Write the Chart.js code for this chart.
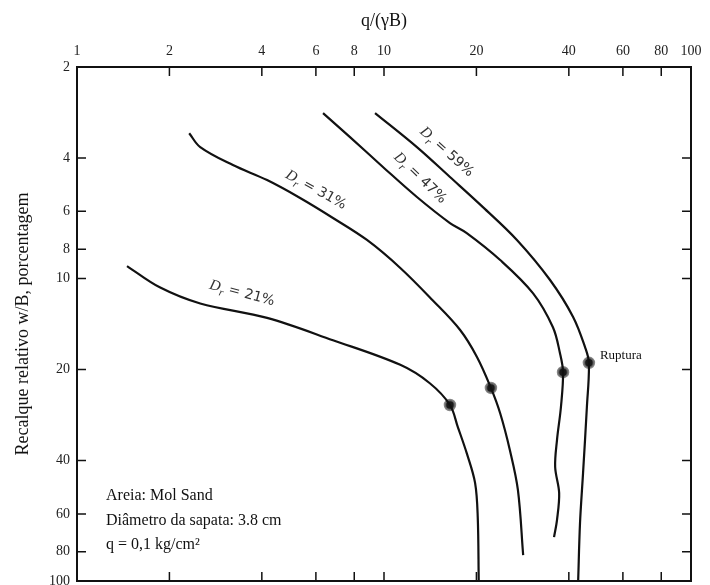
<!DOCTYPE html>
<html lang="pt">
<head>
<meta charset="UTF-8">
<title>Recalque relativo x q/(γB)</title>
<script src="https://cdn.jsdelivr.net/npm/chart.js"></script>
<style>
body { margin: 0; background: #fff; }
#wrap { width: 710px; height: 585px; }
</style>
</head>
<body>
<div id="wrap"><canvas id="chart" width="710" height="585"></canvas></div>
<script>
// tick labels
var xTickValues = [1, 2, 4, 6, 8, 10, 20, 40, 60, 80, 100];
var yTickValues = [2, 4, 6, 8, 10, 20, 40, 60, 80, 100];

// curves: q/(γB) vs w/B (%)
var dr21X = [1.455, 1.86, 2.52, 4.16, 6.82, 11.3, 14.1, 16.4, 17.4, 18.6, 19.8, 20.2, 20.35];
var dr21Y = [9.1, 10.7, 12.1, 13.5, 16.0, 19.3, 22.2, 26.2, 31.0, 37.8, 47.4, 61.5, 100];

var dr31X = [2.32, 2.52, 3.22, 4.16, 5.33, 6.82, 8.8, 11.3, 14.4, 17.7, 20.1, 22.3, 23.9, 25.7, 27.3, 28.4];
var dr31Y = [3.31, 3.68, 4.22, 4.73, 5.42, 6.31, 7.46, 9.23, 11.8, 14.8, 18.2, 23.0, 27.9, 36.9, 50.0, 82.1];

var dr47X = [6.33, 7.75, 9.92, 12.8, 16.4, 18.6, 23.9, 30.6, 35.5, 37.4, 38.3, 37.7, 36.6, 36.1, 37.2, 36.6, 35.8];
var dr47Y = [2.84, 3.41, 4.28, 5.38, 6.56, 7.08, 8.69, 11.2, 14.5, 17.6, 20.4, 26.6, 34.2, 42.0, 51.2, 62.9, 71.6];

var dr59X = [9.35, 12.8, 16.4, 21.0, 27.1, 34.7, 41.3, 45.2, 46.5, 45.8, 44.5, 43.5, 42.9];
var dr59Y = [2.84, 3.68, 4.62, 5.81, 7.46, 10.1, 13.4, 16.9, 19.0, 26.6, 44.0, 64.3, 100];

// rupture points
var ruptureX = [16.4, 22.3, 38.3, 46.5];
var ruptureY = [26.2, 23.0, 20.4, 19.0];

var curveNames = ['21%', '31%', '47%', '59%'];

function pts(xs, ys) {
  return xs.map(function(v, i) { return { x: v, y: ys[i] }; });
}

function curve(label, xs, ys) {
  return {
    label: label,
    data: pts(xs, ys),
    borderColor: '#111',
    borderWidth: 2.2,
    pointRadius: 0,
    tension: 0.35,
    fill: false
  };
}

var serif = '"Liberation Serif", "DejaVu Serif", serif';

// inward ticks, frame, curve labels and the note
var decorPlugin = {
  id: 'decor',
  afterDraw: function(chart) {
    var ctx = chart.ctx;
    var a = chart.chartArea;
    var xs = chart.scales.x;
    var ys = chart.scales.y;
    var tl = 9;

    ctx.save();
    ctx.strokeStyle = '#111';
    ctx.lineWidth = 2;
    ctx.strokeRect(a.left, a.top, a.right - a.left, a.bottom - a.top);

    ctx.lineWidth = 1.5;
    ctx.beginPath();
    xTickValues.slice(1, -1).forEach(function(v) {
      var px = xs.getPixelForValue(v);
      ctx.moveTo(px, a.top); ctx.lineTo(px, a.top + tl);
      ctx.moveTo(px, a.bottom); ctx.lineTo(px, a.bottom - tl);
    });
    yTickValues.slice(1, -1).forEach(function(v) {
      var py = ys.getPixelForValue(v);
      ctx.moveTo(a.left, py); ctx.lineTo(a.left + tl, py);
      ctx.moveTo(a.right, py); ctx.lineTo(a.right - tl, py);
    });
    ctx.stroke();

    // D_r labels along the curves
    var labelPos = [
      { x: 3.45, y: 11.2, angle: 15 },
      { x: 6.0, y: 5.1, angle: 29 },
      { x: 13.1, y: 4.66, angle: 44 },
      { x: 16.0, y: 3.82, angle: 42 }
    ];
    ctx.fillStyle = '#333';
    labelPos.forEach(function(p, i) {
      var px = xs.getPixelForValue(p.x);
      var py = ys.getPixelForValue(p.y);
      ctx.save();
      ctx.translate(px, py);
      ctx.rotate(p.angle * Math.PI / 180);
      ctx.textBaseline = 'middle';
      ctx.font = 'italic 15px ' + serif;
      var rest = ' = ' + curveNames[i];
      var wD = ctx.measureText('D').width;
      ctx.font = 'italic 11px ' + serif;
      var wr = ctx.measureText('r').width;
      ctx.font = '14px "DejaVu Sans", sans-serif';
      var wRest = ctx.measureText(rest).width;
      var x0 = -(wD + wr + wRest) / 2;
      ctx.font = 'italic 15px ' + serif;
      ctx.fillText('D', x0, 0);
      ctx.font = 'italic 11px ' + serif;
      ctx.fillText('r', x0 + wD, 5);
      ctx.font = '14px "DejaVu Sans", sans-serif';
      ctx.fillText(rest, x0 + wD + wr, 0);
      ctx.restore();
    });

    // Ruptura
    var rx = xs.getPixelForValue(ruptureX[3]);
    var ry = ys.getPixelForValue(ruptureY[3]);
    ctx.fillStyle = '#111';
    ctx.font = '13px ' + serif;
    ctx.textBaseline = 'middle';
    ctx.textAlign = 'left';
    ctx.fillText('Ruptura', rx + 11, ry - 7);

    // note box
    ctx.font = '16px ' + serif;
    ctx.textBaseline = 'alphabetic';
    ctx.fillText('Areia: Mol Sand', a.left + 29, 500);
    ctx.fillText('Diâmetro da sapata: 3.8 cm', a.left + 29, 525);
    ctx.fillText('q = 0,1 kg/cm²', a.left + 29, 549);
    ctx.restore();
  }
};

var ctx = document.getElementById('chart').getContext('2d');
var chart = new Chart(ctx, {
  type: 'line',
  data: {
    datasets: [
      curve('Dr = 21%', dr21X, dr21Y),
      curve('Dr = 31%', dr31X, dr31Y),
      curve('Dr = 47%', dr47X, dr47Y),
      curve('Dr = 59%', dr59X, dr59Y),
      {
        type: 'scatter',
        label: 'Ruptura',
        data: pts(ruptureX, ruptureY),
        backgroundColor: '#1a1a1a',
        borderColor: 'rgba(110,110,110,0.85)',
        borderWidth: 2.5,
        pointRadius: 5
      }
    ]
  },
  options: {
    responsive: false,
    animation: false,
    layout: { autoPadding: false, padding: { left: 0, top: 0, right: 19, bottom: 4 } },
    plugins: {
      legend: { display: false },
      tooltip: { enabled: false }
    },
    scales: {
      x: {
        type: 'logarithmic',
        position: 'top',
        min: 1,
        max: 100,
        grid: { display: false, drawTicks: false },
        border: { display: false },
        afterBuildTicks: function(s) {
          s.ticks = xTickValues.map(function(v) { return { value: v }; });
        },
        afterFit: function(s) {
          s.height = 67;
          s.paddingLeft = 0;
          s.paddingRight = 0;
        },
        ticks: {
          autoSkip: false,
          maxRotation: 0,
          padding: 7,
          color: '#222',
          font: { family: serif, size: 14 },
          callback: function(v) { return String(v); }
        },
        title: {
          display: true,
          text: 'q/(γB)',
          color: '#111',
          padding: { top: 10, bottom: 0 },
          font: { family: serif, size: 18 }
        }
      },
      y: {
        type: 'logarithmic',
        reverse: true,
        min: 2,
        max: 100,
        grid: { display: false, drawTicks: false },
        border: { display: false },
        afterBuildTicks: function(s) {
          s.ticks = yTickValues.map(function(v) { return { value: v }; });
        },
        afterFit: function(s) {
          s.width = 77;
          s.paddingTop = 0;
          s.paddingBottom = 0;
        },
        ticks: {
          autoSkip: false,
          padding: 7,
          color: '#222',
          font: { family: serif, size: 14 },
          callback: function(v) { return String(v); }
        },
        title: {
          display: true,
          text: 'Recalque relativo w/B, porcentagem',
          color: '#111',
          padding: { top: 12, bottom: 0 },
          font: { family: serif, size: 18 }
        }
      }
    }
  },
  plugins: [decorPlugin]
});
</script>
</body>
</html>
